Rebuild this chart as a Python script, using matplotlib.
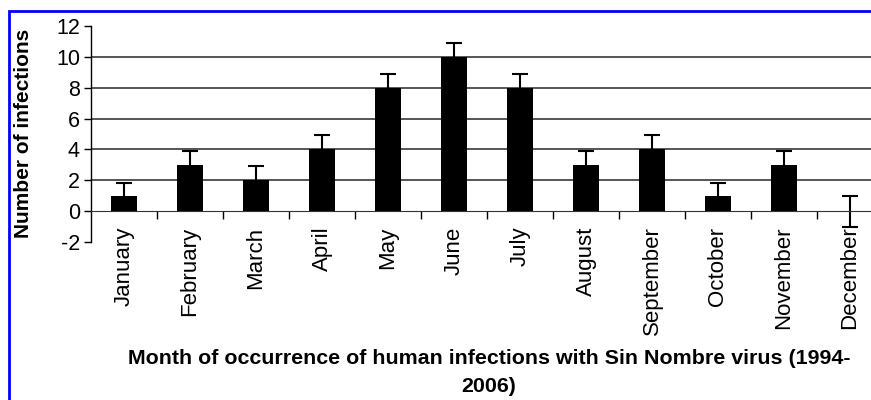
import matplotlib
matplotlib.use("Agg")
import matplotlib.pyplot as plt
from matplotlib.patches import Rectangle
import numpy as np

# data
months = ["January", "February", "March", "April", "May", "June",
          "July", "August", "September", "October", "November", "December"]
infections = [1, 3, 2, 4, 8, 10, 8, 3, 4, 1, 3, 0]
errors = [0.85, 0.9, 0.95, 0.95, 0.9, 0.9, 0.9, 0.9, 0.95, 0.85, 0.9, 1.0]
y_ticks = [-2, 0, 2, 4, 6, 8, 10, 12]
grid_levels = [2, 4, 6, 8, 10]

plt.rcParams['font.family'] = ['Liberation Sans', 'DejaVu Sans']

fig = plt.figure(figsize=(8.71, 4.0), dpi=100)
ax = fig.add_axes([91 / 871, 1 - 242 / 400, 792 / 871, 216 / 400])

x = np.arange(len(months))

# grid lines
for g in grid_levels:
    ax.axhline(g, color='#555555', lw=1.4, zorder=0)

# error bars under the bars so only the upper part shows
ax.errorbar(x, infections, yerr=errors, fmt='none', ecolor='black',
            elinewidth=1.5, capsize=6, capthick=1.5, zorder=1)
ax.bar(x, infections, width=0.4, color='black', linewidth=0, zorder=2)

ax.set_xlim(-0.5, 11.5)
ax.set_ylim(-2, 12)
ax.set_yticks(y_ticks)
ax.set_yticklabels([str(v) for v in y_ticks], fontsize=15.5)

# x axis sits at zero, ticks at category boundaries
ax.spines['bottom'].set_position(('data', 0))
ax.spines['bottom'].set_color('#333333')
ax.spines['top'].set_visible(False)
ax.spines['right'].set_visible(False)
ax.spines['left'].set_linewidth(1.0)
ax.set_xticks(np.arange(0.5, 11.5, 1.0))
ax.set_xticklabels([])
ax.set_xticks(x, minor=True)
ax.set_xticklabels(months, minor=True, rotation=90, fontsize=16,
                   va='top', ha='center')
ax.tick_params(axis='x', which='major', direction='out', length=6, width=1)
ax.tick_params(axis='x', which='minor', length=0, pad=11)
ax.tick_params(axis='y', direction='out', length=5, width=1, pad=3)

fig.text(24 / 871, 1 - 133 / 400, "Number of infections", rotation=90,
         fontsize=15, fontweight='bold', ha='center', va='center')

fig.text(489 / 871, 1 - 359 / 400,
         "Month of occurrence of human infections with Sin Nombre virus (1994-",
         fontsize=15.4, fontweight='bold', ha='center', va='center')
fig.text(489 / 871, 1 - 387 / 400, "2006)",
         fontsize=15.4, fontweight='bold', ha='center', va='center')

# blue frame around the figure
fig.patches.append(Rectangle((9 / 871, -0.05), 1.0, 1 - 11 / 400 + 0.05,
                             transform=fig.transFigure, fill=False,
                             edgecolor='#0000ff', lw=2, clip_on=False))

fig.savefig("out.png", dpi=100)
